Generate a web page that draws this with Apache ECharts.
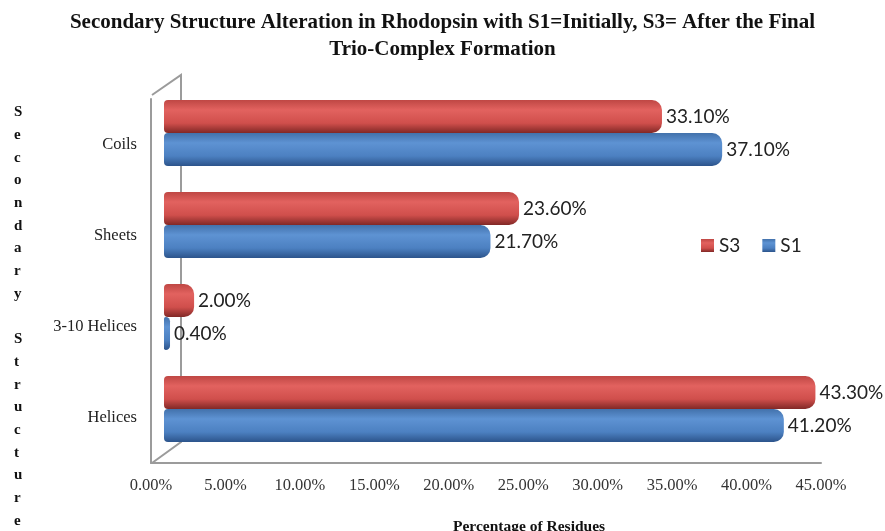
<!DOCTYPE html>
<html>
<head>
<meta charset="utf-8">
<script src="https://cdn.jsdelivr.net/npm/echarts@6/dist/echarts.min.js"></script>
<style>
html,body{margin:0;padding:0;background:#fff;}
#c{width:885px;height:531px;}
</style>
</head>
<body>
<div id="c"></div>
<script>
const categories = ['Helices', '3-10 Helices', 'Sheets', 'Coils'];
const s3Values = [43.3, 2.0, 23.6, 33.1];
const s1Values = [41.2, 0.4, 21.7, 37.1];
const xTicks = [0, 5, 10, 15, 20, 25, 30, 35, 40, 45];
const seriesNames = ['S3', 'S1'];

const chart = echarts.init(document.getElementById('c'), null, {renderer: 'canvas'});

function grad(top, light, mid, dark) {
  return new echarts.graphic.LinearGradient(0, 0, 0, 1, [
    {offset: 0, color: top},
    {offset: 0.3, color: light},
    {offset: 0.7, color: mid},
    {offset: 1, color: dark}
  ]);
}
const redFill = grad('#bf4744', '#e2625f', '#d04f4c', '#812826');
const blueFill = grad('#4271ab', '#5e93d3', '#4c80c1', '#2c548b');

const serif = '"Liberation Serif", "Times New Roman", serif';
const sans = 'Lato, "Open Sans", sans-serif';

const stacked = 'Secondary'.split('').join('\n') + '\n\n' + 'Structure'.split('').join('\n');

const option = {
  backgroundColor: '#fff',
  animation: false,
  title: [
    {
      text: 'Secondary Structure Alteration in Rhodopsin with S1=Initially, S3= After the Final\nTrio-Complex Formation',
      left: 'center', top: 4,
      textStyle: {fontFamily: serif, fontWeight: 'bold', fontSize: 21, lineHeight: 27, color: '#111'}
    },
    {
      text: stacked,
      left: 9, top: 96,
      textStyle: {fontFamily: serif, fontWeight: 'bold', fontSize: 15, lineHeight: 22.7, color: '#111'}
    },
    {
      text: 'Percentage of Residues',
      left: 448, top: 514,
      textStyle: {fontFamily: serif, fontWeight: 'bold', fontSize: 15.5, color: '#111'}
    }
  ],
  legend: {
    data: seriesNames,
    left: 696, top: 231,
    itemWidth: 13, itemHeight: 13, itemGap: 22,
    icon: 'rect',
    textStyle: {fontFamily: sans, fontSize: 19, color: '#222'}
  },
  grid: [
    {left: 151, right: 64, top: 99, bottom: 68, containLabel: false},
    {left: 164, right: 44, top: 87, bottom: 76, containLabel: false}
  ],
  xAxis: [
    {
      gridIndex: 0, type: 'value', min: 0, max: 45, interval: 5,
      axisLine: {show: true, lineStyle: {color: '#9b9b9b', width: 2}},
      axisTick: {show: false},
      splitLine: {show: false},
      axisLabel: {fontFamily: serif, fontSize: 16.5, color: '#333', margin: 14,
        formatter: v => xTicks.indexOf(v) >= 0 ? v.toFixed(2) + '%' : ''}
    },
    {
      gridIndex: 1, type: 'value', min: 0, max: 45, show: false
    }
  ],
  yAxis: [
    {
      gridIndex: 0, type: 'category', data: categories,
      axisLine: {show: true, lineStyle: {color: '#9b9b9b', width: 2}},
      axisTick: {show: false},
      axisLabel: {fontFamily: serif, fontSize: 16.5, color: '#222', margin: 14}
    },
    {
      gridIndex: 1, type: 'category', data: categories, show: false
    }
  ],
  graphic: [
    {
      type: 'polyline', silent: true, z: 0,
      shape: {points: [[152, 95], [181, 75], [181, 442], [152, 463]]},
      style: {stroke: '#9b9b9b', lineWidth: 2, fill: null}
    }
  ],
  series: [
    {
      name: 'S3', type: 'bar', xAxisIndex: 1, yAxisIndex: 1,
      data: s3Values, barWidth: 33, barGap: '0%',
      itemStyle: {color: redFill, borderRadius: [4, 10, 10, 4]},
      label: {show: true, position: 'right', distance: 4,
        fontFamily: sans, fontSize: 19, color: '#222',
        formatter: p => p.value.toFixed(2) + '%'},
      z: 3
    },
    {
      name: 'S1', type: 'bar', xAxisIndex: 1, yAxisIndex: 1,
      data: s1Values, barWidth: 33, barGap: '0%',
      itemStyle: {color: blueFill, borderRadius: [4, 10, 10, 4]},
      label: {show: true, position: 'right', distance: 4,
        fontFamily: sans, fontSize: 19, color: '#222',
        formatter: p => p.value.toFixed(2) + '%'},
      z: 3
    }
  ]
};
chart.setOption(option);
</script>
</body>
</html>
